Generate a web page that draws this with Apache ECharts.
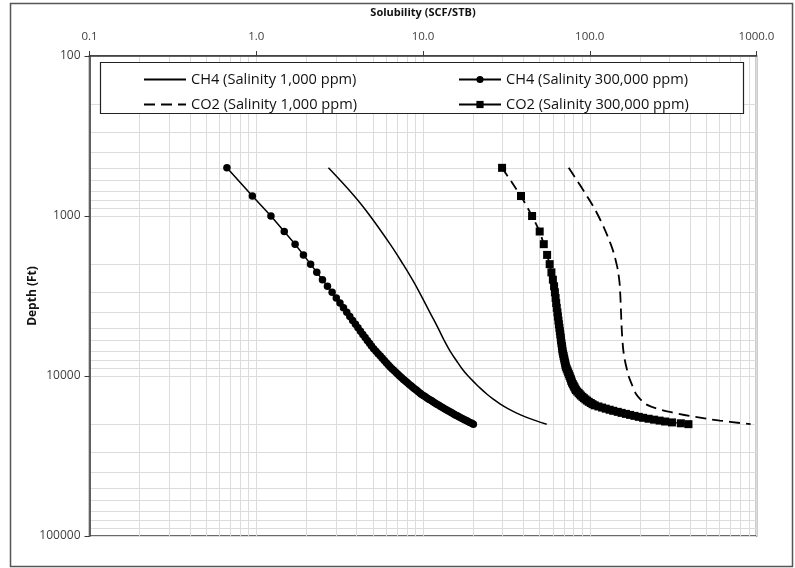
<!DOCTYPE html>
<html><head><meta charset="utf-8">
<script src="https://cdn.jsdelivr.net/npm/echarts@6/dist/echarts.min.js"></script>
<style>html,body{margin:0;padding:0;background:#fff}#c{width:795px;height:568px}</style>
</head><body><div id="c"></div>
<script>
// Depths (ft) for the marker series (every 250 ft)
const depthMarkers = [500,750,1000,1250,1500,1750,2000,2250,2500,2750,3000,3250,3500,3750,4000,4250,4500,4750,5000,5250,5500,5750,6000,6250,6500,6750,7000,7250,7500,7750,8000,8250,8500,8750,9000,9250,9500,9750,10000,10250,10500,10750,11000,11250,11500,11750,12000,12250,12500,12750,13000,13250,13500,13750,14000,14250,14500,14750,15000,15250,15500,15750,16000,16250,16500,16750,17000,17250,17500,17750,18000,18250,18500,18750,19000,19250,19500,19750,20000];
// CH4 solubility, salinity 300,000 ppm (SCF/STB)
const ch4High = [0.667,0.948,1.225,1.472,1.710,1.919,2.118,2.307,2.495,2.673,2.851,3.020,3.177,3.334,3.491,3.639,3.784,3.936,4.074,4.217,4.355,4.498,4.634,4.775,4.909,5.058,5.224,5.383,5.546,5.702,5.861,6.026,6.180,6.339,6.516,6.699,6.887,7.063,7.244,7.447,7.638,7.834,8.035,8.241,8.472,8.670,8.892,9.120,9.333,9.572,9.772,10.05,10.33,10.62,10.91,11.22,11.48,11.80,12.11,12.45,12.76,13.09,13.46,13.80,14.13,14.52,14.86,15.28,15.63,16.03,16.41,16.83,17.30,17.74,18.20,18.62,19.10,19.63,20.04];
// CO2 solubility, salinity 300,000 ppm (SCF/STB)
const co2High = [29.8,38.7,45.1,50.1,53.0,55.5,57.5,58.9,60.1,61.1,61.8,62.4,62.9,63.4,64.0,64.4,64.9,65.3,65.8,66.2,66.6,67.0,67.3,67.7,68.1,68.4,68.7,69.2,69.7,70.2,70.6,71.1,71.5,71.9,72.7,73.5,74.2,75.0,75.7,76.4,77.1,77.6,78.3,79.2,80.1,80.9,81.8,82.6,84.1,85.7,87.1,88.5,90.4,92.2,94.2,96.4,98.6,101.4,104.0,107.2,112.7,118.6,124.7,131.5,138.4,147.2,155.2,164.8,174.6,185.4,196.8,208.9,225.4,243.2,262.4,283.1,311.2,351.6,390.8];
// Depths (ft) for the plain line series
const depthLine = [500,750,1000,1500,2000,2500,3000,4000,5000,6000,7000,8000,9000,10000,11000,12000,13000,14000,15000,16000,17000,18000,19000,20000];
// CH4 solubility, salinity 1,000 ppm
const ch4Low = [2.71,3.87,4.82,6.35,7.59,8.64,9.52,10.99,12.30,13.40,14.54,15.85,17.14,18.65,20.4,22.2,24.2,26.5,29.1,32.3,36.2,41.1,47.4,55.2];
// CO2 solubility, salinity 1,000 ppm
const co2Low = [74.8,96.2,112.7,133.6,144.9,150.2,152.2,154.0,155.4,157.1,159.2,162.5,166.7,171.0,177.0,183.3,190.0,201.4,216.8,253.3,322,426.8,604,922];

const seriesNames = ['CH4 (Salinity 1,000 ppm)','CO2 (Salinity 1,000 ppm)','CH4 (Salinity 300,000 ppm)','CO2 (Salinity 300,000 ppm)'];
const xTickValues = [0.1,1,10,100,1000];
const xTickLabels = ['0.1','1.0','10.0','100.0','1000.0'];
const yTickValues = [100,1000,10000,100000];
const yTickLabels = ['100','1000','10000','100000'];

function pairs(xs, ys){ return xs.map((v,i)=>[v, ys[i]]); }
function lab(vals, labels){ return function(v){ for (let i=0;i<vals.length;i++){ if (Math.abs(v-vals[i])/vals[i] < 1e-6) return labels[i]; } return ''; }; }

const F = 'Open Sans';
const AX = '#3a3a3a';
const GRIDC = '#dcdcdc';
const legendText = {fontFamily:F,fontSize:14.6,lineHeight:14,height:14,color:'#111'};

const chart = echarts.init(document.getElementById('c'));
chart.setOption({
  backgroundColor:'#ffffff',
  animation:false,
  grid:{left:89.5,right:38.5,top:56,bottom:32,show:true,borderColor:AX,borderWidth:1.5,backgroundColor:'transparent'},
  xAxis:{type:'log',logBase:10,position:'top',min:0.1,max:1000,
    name:'Solubility (SCF/STB)',nameLocation:'middle',nameGap:38,nameMoveOverlap:false,
    nameTextStyle:{fontFamily:F,fontWeight:'bold',fontSize:11,color:'#111'},
    axisLine:{show:true,lineStyle:{color:AX,width:1.5}},
    axisTick:{show:true,length:5,lineStyle:{color:AX,width:1}},
    axisLabel:{margin:13,fontFamily:F,fontSize:11.5,color:'#404040',formatter:lab(xTickValues,xTickLabels)},
    splitLine:{show:true,lineStyle:{color:GRIDC,width:1}},
    minorTick:{show:false,splitNumber:9},
    minorSplitLine:{show:true,lineStyle:{color:GRIDC,width:1}}
  },
  yAxis:{type:'log',logBase:10,inverse:true,min:100,max:100000,
    name:'Depth (Ft)',nameLocation:'middle',nameGap:51,nameMoveOverlap:false,
    nameTextStyle:{fontFamily:F,fontWeight:'bold',fontSize:12,color:'#111'},
    axisLine:{show:true,lineStyle:{color:AX,width:1.5}},
    axisTick:{show:true,length:5,lineStyle:{color:AX,width:1}},
    axisLabel:{margin:9,fontFamily:F,fontSize:12,color:'#404040',formatter:lab(yTickValues,yTickLabels)},
    splitLine:{show:true,lineStyle:{color:GRIDC,width:1}},
    minorTick:{show:false,splitNumber:9},
    minorSplitLine:{show:true,lineStyle:{color:GRIDC,width:1}}
  },
  legend:[
    {data:[{name:seriesNames[0],itemStyle:{opacity:0}},{name:seriesNames[1],itemStyle:{opacity:0}}],
      orient:'vertical',left:143,top:72,padding:0,itemWidth:42,itemHeight:9,itemGap:10,textStyle:legendText,z:10},
    {data:[seriesNames[2],seriesNames[3]],orient:'vertical',left:458,top:72,padding:0,itemWidth:42,itemHeight:9,itemGap:10,
      lineStyle:{type:'solid'},textStyle:legendText,z:10}
  ],
  graphic:[
    {type:'rect',z:1,silent:true,shape:{x:10.5,y:3.5,width:782,height:563},style:{fill:null,stroke:'#555',lineWidth:1.5}},
    {type:'rect',z:8,silent:true,shape:{x:100.5,y:62.5,width:643,height:51},style:{fill:'#fff',stroke:'#222',lineWidth:1.2}}
  ],
  series:[
    {name:seriesNames[0],type:'line',data:pairs(ch4Low,depthLine),symbol:'none',smooth:0.4,
      lineStyle:{color:'#000',width:1.5,type:'solid'},itemStyle:{color:'#000'}},
    {name:seriesNames[1],type:'line',data:pairs(co2Low,depthLine),symbol:'none',smooth:0.4,
      lineStyle:{color:'#000',width:1.8,type:[11,6]},itemStyle:{color:'#000'}},
    {name:seriesNames[2],type:'line',data:pairs(ch4High,depthMarkers),symbol:'circle',symbolSize:7.5,showAllSymbol:true,
      lineStyle:{color:'#000',width:1.5},itemStyle:{color:'#000',borderWidth:0}},
    {name:seriesNames[3],type:'line',data:pairs(co2High,depthMarkers),symbol:'rect',symbolSize:8,showAllSymbol:true,
      lineStyle:{color:'#000',width:1.8,type:[10,6]},itemStyle:{color:'#000',borderWidth:0}}
  ]
});
</script>
</body></html>
